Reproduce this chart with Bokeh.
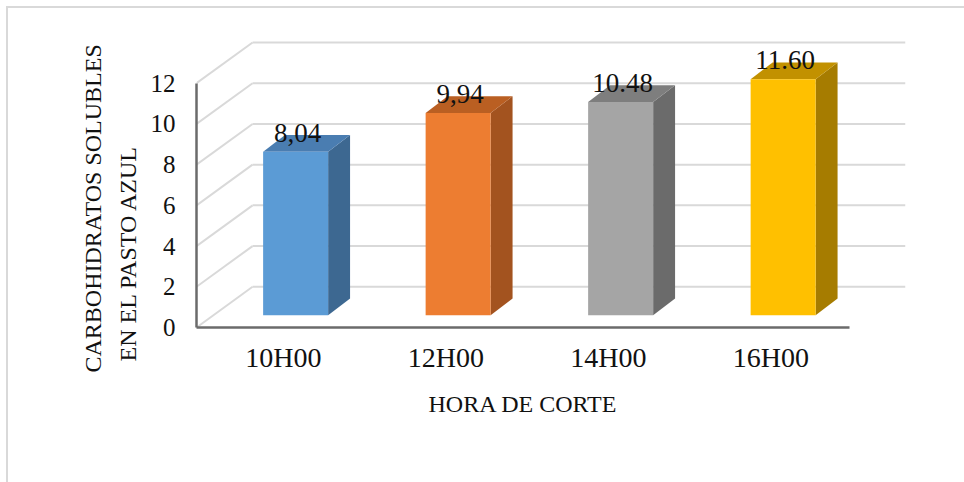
import numpy as np
from bokeh.plotting import figure
from bokeh.models import Range1d, FixedTicker, ColumnDataSource, Title, InlineStyleSheet
from bokeh.core.properties import value
from bokeh.embed import file_html
from bokeh.resources import INLINE

# --- data -------------------------------------------------------------
categories = ["10H00", "12H00", "14H00", "16H00"]
carbohidratos = [8.04, 9.94, 10.48, 11.60]
value_labels = ["8,04", "9,94", "10.48", "11.60"]
y_ticks = [0, 2, 4, 6, 8, 10, 12]

# --- colours (front, side, top faces) ------------------------------------
front_colors = ["#5B9BD5", "#ED7D31", "#A5A5A5", "#FFC000"]
side_colors = ["#3D6891", "#A3531F", "#6B6B6B", "#A67C00"]
top_colors = ["#4A7DB1", "#BA5F22", "#7E7E7E", "#C29100"]

FONT = "Liberation Serif"
TXT = "#111111"

# oblique 3-D geometry, in data units
X0, X1 = -0.535, 3.483        # front floor edge
WALL_DX, WALL_DY = 0.345, 2.0  # depth of the walls
BAR_W = 0.40
BAR_DX, BAR_DY = 0.075, 0.60   # front face of the bars, pushed back
DEP_DX, DEP_DY = 0.135, 0.82   # bar depth

# thin light frame round the chart area (left and top edges visible)
frame_css = InlineStyleSheet(css="""
:host { position: relative; }
:host::after {
  content: ""; position: absolute; left: 6px; top: 6px; right: 0; bottom: 0;
  border-left: 2px solid #d9d9d9; border-top: 2px solid #d9d9d9;
  pointer-events: none; z-index: 10;
}
""")

p = figure(
    width=964, height=482,
    x_range=Range1d(X0, X1 + WALL_DX), y_range=Range1d(0, 14.1),
    output_backend="svg", toolbar_location=None,
    min_border_left=196, min_border_right=59,
    min_border_top=40, min_border_bottom=155,
    stylesheets=[frame_css],
)
p.outline_line_color = None
p.background_fill_color = "white"
p.border_fill_color = "white"
p.xgrid.visible = False
p.ygrid.visible = False

# --- walls: back-wall grid and left-wall diagonals -----------------------
ticks = np.array(y_ticks, dtype=float)
p.segment(x0=np.full(len(ticks), X0 + WALL_DX), y0=ticks + WALL_DY,
          x1=np.full(len(ticks), X1 + WALL_DX), y1=ticks + WALL_DY,
          line_color="#d9d9d9", line_width=2)
p.segment(x0=np.full(len(ticks), X0), y0=ticks,
          x1=np.full(len(ticks), X0 + WALL_DX), y1=ticks + WALL_DY,
          line_color="#d9d9d9", line_width=2)

# --- 3-D bars ---------------------------------------------------------------
vals = np.array(carbohidratos)
idx = np.arange(len(categories))
xl = idx + BAR_DX - BAR_W / 2
xr = idx + BAR_DX + BAR_W / 2
yb = np.full(len(vals), BAR_DY)
yt = vals + BAR_DY

side_xs = [[a, a + DEP_DX, a + DEP_DX, a] for a in xr]
side_ys = [[b, b + DEP_DY, t + DEP_DY, t] for b, t in zip(yb, yt)]
top_xs = [[l, r, r + DEP_DX, l + DEP_DX] for l, r in zip(xl, xr)]
top_ys = [[t, t, t + DEP_DY, t + DEP_DY] for t in yt]

p.patches(side_xs, side_ys, fill_color=side_colors, line_color=None)
p.patches(top_xs, top_ys, fill_color=top_colors, line_color=None)
p.quad(left=xl, right=xr, bottom=yb, top=yt, fill_color=front_colors, line_color=None)

# value labels above each bar
lbl = ColumnDataSource(dict(x=idx + BAR_DX + 0.012, y=yt + DEP_DY, text=value_labels))
p.text(x="x", y="y", text="text", source=lbl, text_font=value(FONT),
       text_font_size="27px", text_color=TXT, text_align="center",
       text_baseline="alphabetic", y_offset=-2)

# --- axes -----------------------------------------------------------------
ax_col = "#6b6b6b"
yax = p.yaxis[0]
yax.ticker = FixedTicker(ticks=y_ticks)
yax.bounds = (0, 12)
yax.axis_line_color = ax_col
yax.axis_line_width = 2.5
yax.major_tick_line_color = None
yax.minor_tick_line_color = None
yax.major_tick_in = 0
yax.major_tick_out = 0
yax.major_label_standoff = 21
yax.major_label_text_font = FONT
yax.major_label_text_font_size = "25px"
yax.major_label_text_color = TXT

xax = p.xaxis[0]
xax.ticker = FixedTicker(ticks=list(idx))
xax.major_label_overrides = {int(i): c for i, c in zip(idx, categories)}
xax.bounds = (X0, X1)
xax.axis_line_color = ax_col
xax.axis_line_width = 2.5
xax.major_tick_line_color = None
xax.minor_tick_line_color = None
xax.major_tick_in = 0
xax.major_tick_out = 0
xax.major_label_standoff = 14
xax.major_label_text_font = FONT
xax.major_label_text_font_size = "28px"
xax.major_label_text_color = TXT

# axis titles as side-panel titles, shifted to sit on the drawn axes
title_kw = dict(text_font=FONT, text_font_style="normal", text_color=TXT,
                align="left")
p.add_layout(Title(text="HORA DE CORTE", text_font_size="24px",
                   offset=232, standoff=26, **title_kw), "below")
p.add_layout(Title(text="EN EL PASTO AZUL", text_font_size="24px",
                   offset=-34, standoff=14, **title_kw), "left")
p.add_layout(Title(text="CARBOHIDRATOS SOLUBLES", text_font_size="24px",
                   offset=-45, standoff=0, **title_kw), "left")

open("out.html", "w").write(file_html(p, INLINE))
